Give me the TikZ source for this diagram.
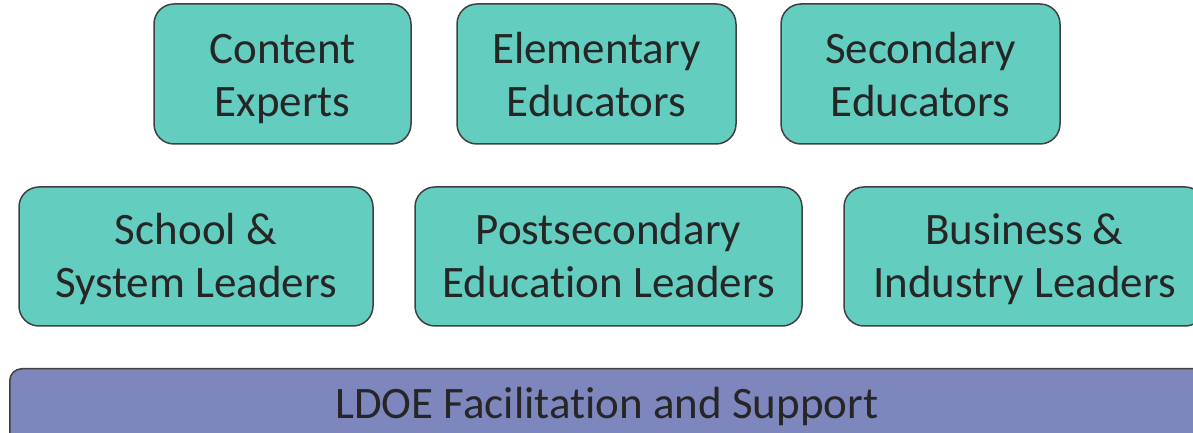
\documentclass[tikz,border=0pt]{standalone}
\usepackage{fontspec}
\setmainfont{Carlito}[Ligatures=NoCommon]
\definecolor{teal1}{HTML}{63CDC0}
\definecolor{purp1}{HTML}{7D87BE}
\definecolor{edge1}{HTML}{404040}
\tikzset{
  grp/.style={draw=edge1, line width=1.5pt, fill=teal1, rounded corners=20pt,
    align=center, inner sep=0pt, text=black!85,
    font=\fontsize{45}{53}\selectfont},
  rowone/.style={text height=100pt, text depth=14pt},
  rowtwo/.style={text height=97pt, text depth=14pt},
  barbox/.style={draw=edge1, line width=1.5pt, fill=purp1, rounded corners=12pt,
    inner sep=0pt},
  bartext/.style={font=\fontsize{45}{53}\selectfont, text=black!85, inner sep=0pt}
}
\begin{document}
\begin{tikzpicture}[x=1pt,y=1pt]
\useasboundingbox (0,0) rectangle (1193,433);
\clip (0,0) rectangle (1193,433);
% top row (y_px center 74 -> 359)
\node[grp, rowone, minimum width=257pt, minimum height=140pt] (ce) at (282.5,359) {Content\\Experts};
\node[grp, rowone, minimum width=279pt, minimum height=140pt] (ee) at (596.5,359) {Elementary\\Educators};
\node[grp, rowone, minimum width=279pt, minimum height=140pt] (se) at (920.5,359) {Secondary\\Educators};
% second row (y_px center 256.5 -> 176.5)
\node[grp, rowtwo, minimum width=354pt, minimum height=139pt] (sl) at (196,176.5) {School \&\\System Leaders};
\node[grp, rowtwo, minimum width=387pt, minimum height=139pt] (pl) at (608.5,176.5) {Postsecondary\\Education Leaders};
\node[grp, rowtwo, minimum width=361pt, minimum height=139pt] (bl) at (1024.5,176.5) {Business \&\\Industry Leaders};
% bottom bar
\node[barbox, minimum width=1300pt, minimum height=120pt, anchor=north west] (bar) at (9,65) {};
\node[bartext, anchor=base] (bt) at (607,14) {LDOE Facilitation and Support};
\end{tikzpicture}
\end{document}
